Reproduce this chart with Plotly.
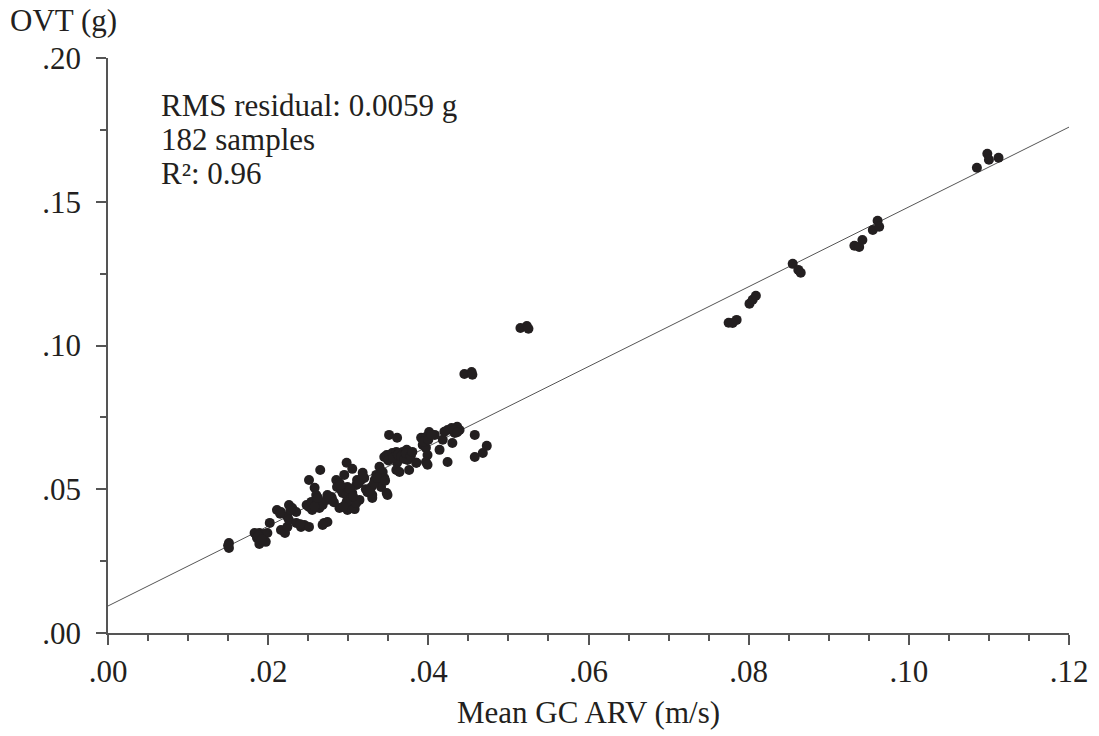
import plotly.graph_objects as go

# Mean GC ARV (m/s)
arv = [
    0.0151, 0.0151, 0.0150,
    0.0183, 0.0189, 0.0195, 0.0199, 0.0186, 0.0197, 0.0189,
    0.0202,
    0.0211, 0.0216,
    0.0216, 0.0221, 0.0224,
    0.0226, 0.0230, 0.0235,
    0.0224, 0.0226,
    0.0235, 0.0241, 0.0245, 0.0251,
    0.0248, 0.0251, 0.0255, 0.0254,
    0.0251,
    0.0258, 0.0260, 0.0261,
    0.0265,
    0.0264, 0.0268,
    0.0270, 0.0274, 0.0268,
    0.0274, 0.0279, 0.0280, 0.0273,
    0.0285, 0.0289, 0.0286, 0.0291, 0.0293, 0.0298,
    0.0289, 0.0295, 0.0299, 0.0304, 0.0308,
    0.0298, 0.0305, 0.0295,
    0.0299, 0.0301, 0.0305, 0.0304, 0.0298,
    0.0310, 0.0311, 0.0318, 0.0316, 0.0320,
    0.0314, 0.0310,
    0.0324, 0.0329, 0.0330, 0.0333, 0.0335, 0.0339, 0.0341,
    0.0330,
    0.0339, 0.0343, 0.0345, 0.0348, 0.0349,
    0.0345, 0.0348, 0.0351, 0.0355, 0.0360, 0.0364, 0.0368, 0.0373,
    0.0376, 0.0368, 0.0374, 0.0361, 0.0360, 0.0364, 0.0376, 0.0385,
    0.0351, 0.0361,
    0.0391, 0.0397, 0.0401, 0.0408, 0.0393, 0.0397, 0.0399, 0.0397, 0.0385, 0.0399,
    0.0414, 0.0418, 0.0424, 0.0429, 0.0433, 0.0436, 0.0439, 0.0424, 0.0430,
    0.0458, 0.0458, 0.0468, 0.0473,
    0.0188, 0.0192, 0.0215, 0.0228, 0.0240, 0.0258, 0.0262, 0.0276, 0.0282,
    0.0290, 0.0294, 0.0302, 0.0306, 0.0313, 0.0318, 0.0322, 0.0327, 0.0332,
    0.0336, 0.0346, 0.0350, 0.0356, 0.0362, 0.0366, 0.0370, 0.0372, 0.0378,
    0.0380, 0.0394, 0.0400, 0.0404, 0.0420, 0.0432, 0.0436,
    0.0445, 0.0454, 0.0455,
    0.0515, 0.0523, 0.0525,
    0.0775, 0.0780, 0.0785,
    0.0801, 0.0805, 0.0809,
    0.0855, 0.0862, 0.0865,
    0.0932, 0.0938, 0.0942,
    0.0955, 0.0961, 0.0963,
    0.1085, 0.1098, 0.1100, 0.1112,
]

# OVT (g)
ovt = [
    0.0313, 0.0296, 0.0304,
    0.0348, 0.0348, 0.0344, 0.0348, 0.0331, 0.0317, 0.0310,
    0.0383,
    0.0428, 0.0421,
    0.0358, 0.0348, 0.0369,
    0.0445, 0.0435, 0.0421,
    0.0404, 0.0393,
    0.0383, 0.0369, 0.0376, 0.0369,
    0.0445, 0.0438, 0.0428, 0.0456,
    0.0532,
    0.0505, 0.0480, 0.0463,
    0.0567,
    0.0435, 0.0445,
    0.0383, 0.0386, 0.0376,
    0.0480, 0.0473, 0.0463, 0.0463,
    0.0532, 0.0522, 0.0508, 0.0498, 0.0487, 0.0480,
    0.0435, 0.0438, 0.0428, 0.0435, 0.0431,
    0.0592, 0.0571, 0.0550,
    0.0508, 0.0490, 0.0487, 0.0470, 0.0456,
    0.0515, 0.0532, 0.0557, 0.0532, 0.0539,
    0.0463, 0.0452,
    0.0490, 0.0508, 0.0480, 0.0532, 0.0550, 0.0525, 0.0508,
    0.0470,
    0.0578, 0.0560, 0.0539, 0.0487, 0.0480,
    0.0612, 0.0619, 0.0619, 0.0626, 0.0630, 0.0626, 0.0630, 0.0637,
    0.0626, 0.0609, 0.0602, 0.0592, 0.0567, 0.0560, 0.0567, 0.0592,
    0.0689, 0.0679,
    0.0679, 0.0682, 0.0699, 0.0689, 0.0654, 0.0644, 0.0619, 0.0595, 0.0592, 0.0585,
    0.0637, 0.0672, 0.0706, 0.0713, 0.0696, 0.0717, 0.0706, 0.0595, 0.0661,
    0.0689, 0.0612, 0.0626, 0.0651,
    0.0338, 0.0325, 0.0415, 0.0428, 0.0378, 0.0440, 0.0470, 0.0470, 0.0455,
    0.0515, 0.0440, 0.0500, 0.0475, 0.0520, 0.0545, 0.0500, 0.0495, 0.0520,
    0.0540, 0.0530, 0.0600, 0.0610, 0.0620, 0.0615, 0.0605, 0.0625, 0.0615,
    0.0630, 0.0665, 0.0672, 0.0690, 0.0700, 0.0705, 0.0698,
    0.0901, 0.0908, 0.0898,
    0.1061, 0.1068, 0.1058,
    0.1079, 0.1078, 0.1089,
    0.1145, 0.1159, 0.1173,
    0.1284, 0.1263, 0.1253,
    0.1347, 0.1343, 0.1367,
    0.1402, 0.1434, 0.1413,
    0.1618, 0.1667, 0.1646, 0.1653,
]

# regression line
fit_x = [0.0, 0.12]
fit_intercept = 0.0094
fit_slope = 1.388
fit_y = [fit_intercept + fit_slope * v for v in fit_x]

x_tickvals = [0.00, 0.02, 0.04, 0.06, 0.08, 0.10, 0.12]
x_ticktext = [".00", ".02", ".04", ".06", ".08", ".10", ".12"]
y_tickvals = [0.00, 0.05, 0.10, 0.15, 0.20]
y_ticktext = [".00", ".05", ".10", ".15", ".20"]

stats_lines = ["RMS residual: 0.0059 g", "182 samples", "R²: 0.96"]
stats_y = [0.1834, 0.1715, 0.1597]

FONT = "Liberation Serif"
FS = 31
INK = "#231f20"
AXIS = "#555555"

fig = go.Figure()
fig.add_trace(go.Scatter(
    x=fit_x, y=fit_y, mode="lines",
    line=dict(color="#555555", width=1), hoverinfo="skip", showlegend=False,
))
fig.add_trace(go.Scatter(
    x=arv, y=ovt, mode="markers",
    marker=dict(size=10, color=INK, line=dict(width=0)),
    showlegend=False,
))

axis_common = dict(
    showgrid=False, zeroline=False, showline=True, linecolor=AXIS, linewidth=1.5,
    ticks="outside", tickcolor=AXIS, tickwidth=1.5, ticklen=10,
    tickfont=dict(family=FONT, size=FS, color=INK),
)

fig.update_layout(
    width=1099, height=736,
    margin=dict(l=108, r=30, t=58, b=103),
    paper_bgcolor="white", plot_bgcolor="white",
    font=dict(family=FONT, size=FS, color=INK),
    xaxis=dict(
        range=[0, 0.12], tickvals=x_tickvals, ticktext=x_ticktext,
        minor=dict(dtick=0.005, ticks="outside", ticklen=6, tickcolor=AXIS, tickwidth=1.5),
        ticklabelstandoff=0,
        **axis_common,
    ),
    yaxis=dict(
        range=[0, 0.20], tickvals=y_tickvals, ticktext=y_ticktext,
        minor=dict(dtick=0.025, ticks="outside", ticklen=6, tickcolor=AXIS, tickwidth=1.5),
        ticklabelstandoff=9,
        **axis_common,
    ),
)

for txt, yy in zip(stats_lines, stats_y):
    fig.add_annotation(x=0.0064, y=yy, xref="x", yref="y", text=txt, showarrow=False,
                       xanchor="left", yanchor="middle",
                       font=dict(family=FONT, size=FS, color=INK))

# y-axis title placed above the axis, as in the reference
fig.add_annotation(x=-100 / 961, y=1 + 38 / 575, xref="paper", yref="paper", text="OVT (g)",
                   showarrow=False, xanchor="left", yanchor="middle",
                   font=dict(family=FONT, size=FS, color=INK))
fig.add_annotation(x=0.5, y=-79 / 575, xref="paper", yref="paper", text="Mean GC ARV (m/s)",
                   showarrow=False, xanchor="center", yanchor="middle",
                   font=dict(family=FONT, size=FS, color=INK))

fig.write_html("out.html")
